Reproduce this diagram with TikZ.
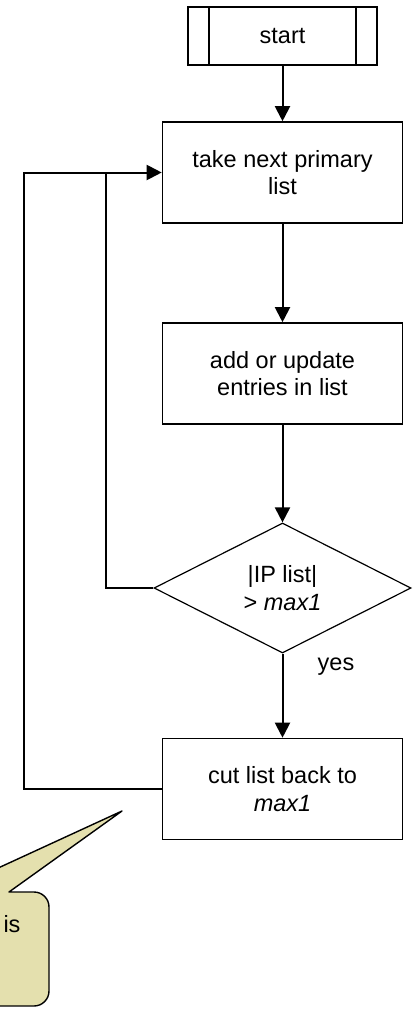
\documentclass[tikz,border=0pt]{standalone}
\usepackage{fontspec}
\setmainfont{Liberation Sans}
\usetikzlibrary{shapes.geometric, arrows.meta}
\definecolor{NoteFill}{HTML}{E4E0AE}
\definecolor{EdgeBlack}{HTML}{000000}
\tikzset{
    startbox/.style={draw=EdgeBlack, line width=1.6pt, minimum width=189pt, minimum height=58pt, inner sep=0pt},
    box/.style={draw=EdgeBlack, line width=1.6pt, minimum width=240pt, minimum height=101pt, inner sep=0pt, align=center},
    decision/.style={draw=EdgeBlack, diamond, line width=1.2pt, aspect=2, minimum width=257pt, minimum height=130pt, inner sep=0pt, align=center},
    flow/.style={EdgeBlack, line width=2pt, -{Triangle[length=15pt, width=15pt]}},
    link/.style={EdgeBlack, line width=2pt},
}

\begin{document}
\begin{tikzpicture}[x=1pt, y=-1pt, font=\fontsize{23.5}{27.5}\selectfont]
    % =========================================
    % 1. 画布
    % =========================================
    \useasboundingbox (0,0) rectangle (415,1010);
    \clip (0,0) rectangle (415,1010);

    % =========================================
    % 2. 流程节点
    % =========================================
    \node[startbox] (start) at (282.5,36) {start};
    \foreach \side/\dx in {west/22, east/-22} {
        \draw[line width=1.6pt] ([xshift=\dx pt]start.north \side) -- ([xshift=\dx pt]start.south \side);
    }
    \node[box] (take) at (282.5,172.5) {take next primary\\list};
    \node[box] (update) at (282.5,373.5) {add or update\\entries in list};
    \node[decision] (size) at (282.5,588) {|IP list|\\> \textit{max1}};
    \node[box] (cut) at (282.5,789) {cut list back to\\\textit{max1}};
    \node (yes) at (336,667) {yes};

    % =========================================
    % 3. 连线
    % =========================================
    \draw[flow] (start) -- (take);
    \draw[flow] (take) -- (update);
    \draw[flow] (update) -- (size);
    \draw[flow] (size) -- (cut);

    % 回环
    \coordinate (join) at (106,172.5);
    \coordinate (corner) at (24,789);
    \draw[flow] (size.west) -| (join) -- (take.west);
    \draw[link] (cut.west) -- (corner) |- (join);

    % =========================================
    % 4. 注释框 (Callout)
    % =========================================
    \coordinate (tip) at (122,811);
    \filldraw[fill=NoteFill, draw=EdgeBlack, line width=1.4pt, line join=round]
        (-100,1006) -- (-100,892) -- (-54,892) -- (tip) -- (9,892) -- (34,892)
        arc[start angle=90, end angle=0, radius=15pt] -- (49,991)
        arc[start angle=0, end angle=-90, radius=15pt] -- cycle;
    \node (note) at (12,924) {is};

\end{tikzpicture}
\end{document}
